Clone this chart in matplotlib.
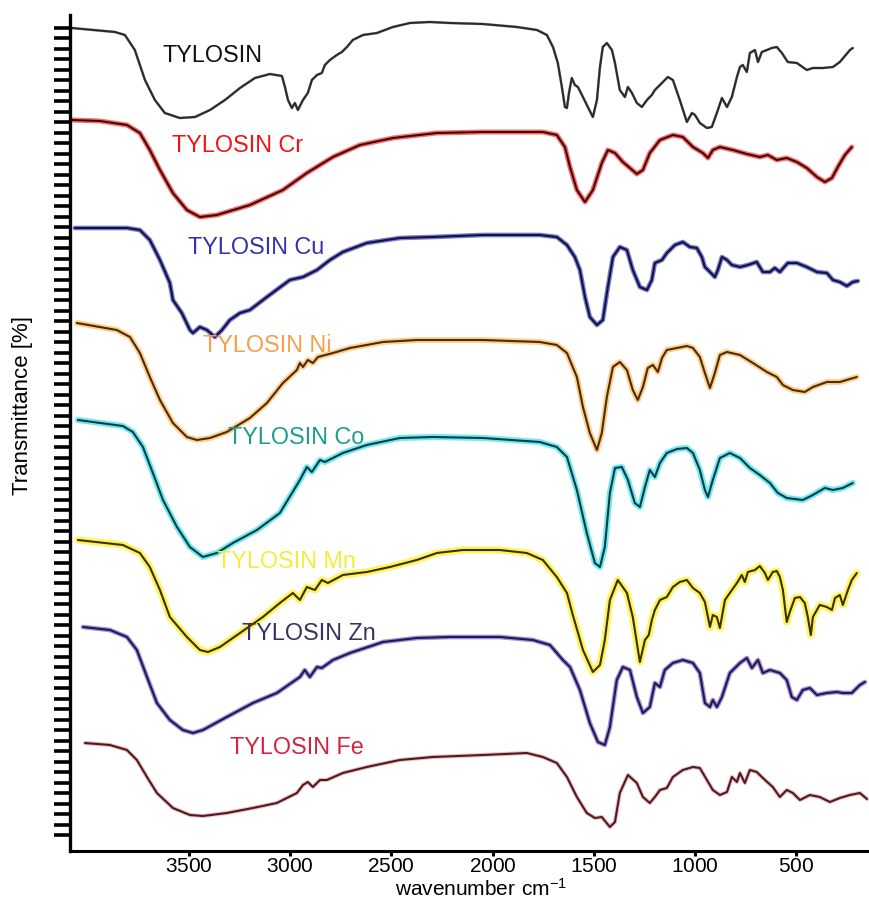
import matplotlib
matplotlib.use("Agg")
import matplotlib.pyplot as plt
import numpy as np

plt.rcParams['font.family'] = ['Liberation Sans', 'DejaVu Sans']
plt.rcParams['mathtext.fontset'] = 'custom'
plt.rcParams['mathtext.rm'] = 'Liberation Sans'

# ---------------- data (wavenumber cm-1, stacked transmittance, arbitrary units) -------------
tyl_w = [4077, 3864, 3815, 3766, 3716, 3667, 3618, 3544, 3469, 3395, 3321, 3247, 3173, 3099, 3040,
         3025, 3010, 2991, 2976, 2961, 2936, 2912, 2892, 2867, 2843, 2828, 2803, 2769, 2744, 2719,
         2690, 2640, 2571, 2492, 2408, 2310, 2211, 2048, 1880, 1781, 1732, 1702, 1678, 1658, 1643,
         1633, 1623, 1609, 1594, 1579, 1554, 1530, 1505, 1485, 1470, 1456, 1436, 1411, 1396, 1372,
         1347, 1332, 1312, 1288, 1263, 1238, 1214, 1199, 1174, 1135, 1110, 1076, 1041, 1016, 1001,
         977, 942, 918, 893, 868, 843, 819, 794, 779, 765, 745, 730, 705, 690, 671, 646, 622, 597,
         572, 543, 498, 449, 419, 370, 320, 286, 236, 222]
tyl_t = [872, 868, 865, 850, 820, 800, 787, 782, 783, 790, 800, 812, 822, 826, 824,
         813, 800, 792, 797, 790, 800, 807, 820, 825, 827, 835, 840, 845, 848, 853,
         860, 865, 867, 873, 877, 878, 877, 876, 873, 870, 865, 853, 837, 813, 793,
         792, 807, 822, 815, 813, 803, 793, 783, 800, 833, 853, 857, 850, 837, 810,
         803, 813, 807, 797, 793, 800, 805, 810, 815, 823, 820, 800, 778, 787, 785,
         777, 772, 773, 787, 802, 793, 803, 823, 833, 835, 828, 847, 850, 838, 848, 850, 852, 853,
         847, 838, 837, 830, 832, 832, 833, 838, 850, 852]

cr_w = [4077, 3938, 3805, 3741, 3692, 3642, 3578, 3509, 3445, 3361, 3198, 3035, 2917, 2788, 2655,
        2492, 2275, 2048, 1752, 1683, 1643, 1618, 1584, 1544, 1505, 1461, 1431, 1396, 1357, 1322,
        1288, 1258, 1224, 1174, 1110, 1061, 1011, 962, 937, 913, 878, 814, 745, 681, 641, 597,
        548, 498, 449, 399, 360, 325, 296, 261, 227]
cr_t = [780, 779, 775, 767, 750, 730, 707, 690, 683, 685, 695, 710, 727, 743, 755,
        762, 767, 768, 768, 765, 753, 733, 710, 698, 710, 737, 750, 747, 738, 732,
        726, 730, 747, 760, 765, 763, 753, 747, 742, 750, 753, 750, 746, 743, 745, 740,
        742, 738, 732, 723, 718, 722, 733, 745, 753]

cu_w = [4062, 3805, 3741, 3692, 3642, 3593, 3578, 3534, 3494, 3479, 3445, 3410, 3371, 3336, 3297,
        3247, 3198, 3114, 3001, 2936, 2867, 2803, 2739, 2621, 2458, 2295, 2048, 1767, 1683, 1633,
        1594, 1569, 1544, 1520, 1485, 1456, 1431, 1406, 1372, 1337, 1308, 1273, 1238, 1214, 1199,
        1164, 1140, 1100, 1061, 1026, 992, 967, 952, 927, 903, 888, 868, 843, 819, 779, 740, 696,
        666, 631, 607, 582, 543, 498, 449, 399, 350, 320, 286, 251, 222, 197]
cu_t = [672, 672, 670, 660, 640, 617, 600, 587, 570, 567, 573, 570, 563, 570, 580,
        587, 590, 603, 620, 623, 630, 640, 648, 657, 662, 663, 665, 665, 663, 655,
        643, 630, 603, 583, 575, 580, 613, 643, 653, 650, 630, 613, 610, 620, 637,
        640, 647, 655, 658, 653, 652, 643, 633, 628, 623, 630, 643, 640, 635, 633, 635, 638,
        628, 628, 632, 628, 637, 637, 633, 628, 627, 620, 618, 614, 618, 619]

ni_w = [4052, 3855, 3790, 3741, 3692, 3642, 3578, 3509, 3460, 3395, 3312, 3198, 3114, 3035, 2966,
        2951, 2936, 2912, 2887, 2862, 2788, 2704, 2541, 2374, 2048, 1767, 1683, 1633, 1584, 1554,
        1520, 1485, 1461, 1436, 1406, 1372, 1337, 1308, 1283, 1258, 1234, 1209, 1184, 1164, 1140,
        1090, 1041, 1011, 977, 952, 927, 903, 878, 843, 779, 715, 646, 597, 567, 518, 459, 419,
        350, 286, 236, 202]
ni_t = [577, 570, 563, 547, 523, 500, 477, 463, 460, 462, 468, 482, 497, 517, 530,
        537, 533, 540, 537, 543, 547, 552, 558, 560, 560, 558, 555, 547, 523, 493,
        467, 450, 467, 503, 533, 538, 530, 510, 500, 513, 532, 535, 528, 542, 550,
        552, 554, 552, 543, 527, 512, 527, 545, 548, 545, 537, 528, 523, 515, 510, 508, 513,
        518, 518, 521, 523]

co_w = [4047, 3825, 3776, 3726, 3677, 3627, 3558, 3494, 3430, 3361, 3282, 3163, 3050, 2951, 2917,
        2892, 2852, 2828, 2739, 2621, 2458, 2295, 2048, 1767, 1683, 1633, 1584, 1535, 1495, 1470,
        1446, 1421, 1396, 1362, 1332, 1298, 1273, 1248, 1224, 1199, 1174, 1140, 1090, 1041, 1011,
        977, 952, 937, 913, 878, 829, 779, 730, 681, 631, 592, 548, 469, 419, 360, 320, 271, 222]
co_t = [480, 474, 468, 453, 427, 400, 373, 353, 343, 347, 357, 370, 387, 420, 433,
        428, 440, 438, 447, 455, 462, 463, 462, 458, 453, 443, 410, 367, 337, 333,
        353, 407, 432, 433, 420, 397, 393, 413, 430, 423, 437, 447, 451, 452, 447,
        430, 410, 403, 420, 442, 447, 442, 432, 425, 417, 407, 402, 400, 405, 412, 410, 412, 417]

mn_w = [4047, 3825, 3741, 3692, 3642, 3593, 3509, 3445, 3405, 3346, 3247, 3134, 3050, 2986, 2951,
        2917, 2877, 2843, 2813, 2739, 2621, 2507, 2374, 2275, 2147, 1964, 1831, 1752, 1683, 1633,
        1604, 1554, 1505, 1470, 1446, 1421, 1382, 1337, 1308, 1273, 1248, 1229, 1214, 1199, 1174,
        1140, 1110, 1076, 1041, 1011, 977, 952, 927, 913, 893, 878, 853, 829, 794, 770, 755, 740,
        705, 681, 656, 641, 617, 597, 582, 567, 548, 533, 508, 483, 459, 444, 429, 419, 385, 350,
        325, 310, 286, 271, 246, 227, 202]
mn_t = [360, 355, 347, 333, 310, 283, 263, 250, 248, 253, 267, 283, 297, 307, 300,
        313, 310, 320, 317, 325, 328, 333, 340, 347, 350, 350, 347, 340, 323, 307,
        285, 250, 228, 235, 260, 300, 320, 307, 283, 238, 260, 265, 280, 290, 300,
        303, 313, 318, 320, 312, 307, 298, 273, 285, 283, 272, 300, 307, 317, 325, 318, 328,
        330, 334, 327, 320, 328, 329, 323, 310, 278, 288, 302, 303, 297, 283, 265, 283, 295, 293,
        290, 302, 305, 295, 310, 320, 327]

zn_w = [4022, 3889, 3805, 3756, 3706, 3657, 3593, 3529, 3479, 3430, 3312, 3183, 3065, 3001, 2951,
        2927, 2902, 2867, 2843, 2788, 2704, 2541, 2374, 2211, 1964, 1801, 1717, 1653, 1618, 1569,
        1520, 1480, 1446, 1421, 1387, 1357, 1322, 1288, 1258, 1224, 1199, 1174, 1150, 1110, 1061,
        1011, 977, 952, 927, 913, 893, 868, 829, 779, 745, 720, 690, 666, 631, 582, 548, 523,
        498, 469, 434, 399, 350, 300, 271, 227, 187, 162]
zn_t = [273, 270, 263, 250, 223, 197, 180, 170, 167, 170, 183, 197, 207, 216, 223,
        230, 223, 233, 232, 240, 247, 258, 262, 263, 263, 260, 255, 240, 233, 210,
        177, 158, 155, 173, 220, 233, 230, 203, 187, 193, 217, 213, 230, 237, 240,
        237, 227, 197, 193, 200, 193, 203, 227, 237, 242, 232, 240, 227, 230, 227, 220, 203,
        200, 210, 212, 205, 207, 208, 207, 207, 215, 218]

fe_w = [4012, 3889, 3805, 3756, 3706, 3657, 3578, 3494, 3430, 3312, 3183, 3065, 2966, 2936, 2912,
        2887, 2852, 2818, 2739, 2621, 2458, 2295, 2048, 1831, 1752, 1683, 1633, 1584, 1535, 1495,
        1461, 1421, 1396, 1372, 1332, 1288, 1258, 1224, 1199, 1174, 1140, 1110, 1061, 1011, 977,
        942, 913, 878, 843, 819, 794, 779, 755, 730, 696, 666, 617, 582, 548, 518, 483, 434,
        385, 335, 286, 236, 187, 152]
fe_t = [157, 155, 150, 140, 123, 107, 92, 85, 84, 87, 92, 97, 107, 115, 118,
        113, 120, 120, 127, 133, 140, 143, 145, 147, 143, 137, 123, 103, 87, 82,
        83, 73, 78, 107, 125, 117, 103, 97, 103, 110, 112, 123, 130, 133, 132,
        120, 110, 105, 108, 123, 118, 127, 117, 130, 128, 122, 113, 103, 110, 107, 100, 105,
        103, 98, 102, 105, 107, 101]

labels = ["TYLOSIN", "TYLOSIN Cr", "TYLOSIN Cu", "TYLOSIN Ni",
          "TYLOSIN Co", "TYLOSIN Mn", "TYLOSIN Zn", "TYLOSIN Fe"]
label_w = [3628, 3583, 3505, 3430, 3306, 3361, 3237, 3297]
label_t = [844, 755, 653, 554, 463, 338, 267, 152]
label_colors = ["#111111", "#f01414", "#3232aa", "#f5a04a", "#1a9e8e", "#f2ee3a", "#3b3160", "#d42242"]
core_colors = ["#2a2a2a", "#3a0c0c", "#12123e", "#4e2a0e", "#0c3c44", "#3a3200", "#21184e", "#4e1c1c"]
halo_colors = ["#9a9a9a", "#ff3a3a", "#5050c8", "#ffc060", "#40e4ec", "#fff02a", "#8a6ad6", "#e6a6b4"]
halo_widths = [2.0, 3.6, 3.4, 4.2, 4.4, 5.2, 3.4, 3.0]

x_ticks = [3500, 3000, 2500, 2000, 1500, 1000, 500]

series = [(tyl_w, tyl_t), (cr_w, cr_t), (cu_w, cu_t), (ni_w, ni_t),
          (co_w, co_t), (mn_w, mn_t), (zn_w, zn_t), (fe_w, fe_t)]

# ---------------- figure ----------------
fig = plt.figure(figsize=(8.69, 9.0), dpi=100)
ax = fig.add_axes([70 / 869, 49 / 900, 799 / 869, 836 / 900])

for (w, t), hc, cc, hw in zip(series, halo_colors, core_colors, halo_widths):
    ax.plot(w, t, color=hc, lw=hw, alpha=0.75, solid_joinstyle='round', solid_capstyle='round')
    ax.plot(w, t, color=cc, lw=1.5, solid_joinstyle='round', solid_capstyle='round')

for lab, lw_, lt, col in zip(labels, label_w, label_t, label_colors):
    ax.text(lw_, lt, lab, color=col, fontsize=16.8, ha='left', va='center')

ax.set_xlim(4086, 142)
ax.set_ylim(49, 885)

ax.spines['top'].set_visible(False)
ax.spines['right'].set_visible(False)
ax.spines['left'].set_linewidth(2.4)
ax.spines['bottom'].set_linewidth(2.2)

ax.set_xticks(x_ticks)
ax.set_xticklabels([r'$\mathregular{%d}$' % v for v in x_ticks])
ax.tick_params(axis='x', direction='out', length=3.5, width=2.2, labelsize=15, pad=0.6)

ax.set_yticks(np.linspace(65, 872, 78))
ax.set_yticklabels([])
ax.tick_params(axis='y', direction='out', length=11.5, width=2.6)

ax.set_xlabel(r'$\mathregular{wavenumber\ cm^{-1}}$', fontsize=15)
ax.xaxis.label.set_va('bottom')
ax.xaxis.set_label_coords(0.514, -0.0586)
ax.set_ylabel('Transmittance [%]', fontsize=16)
ax.yaxis.set_label_coords(-0.046, 0.533)

fig.savefig("out.png", dpi=100)
